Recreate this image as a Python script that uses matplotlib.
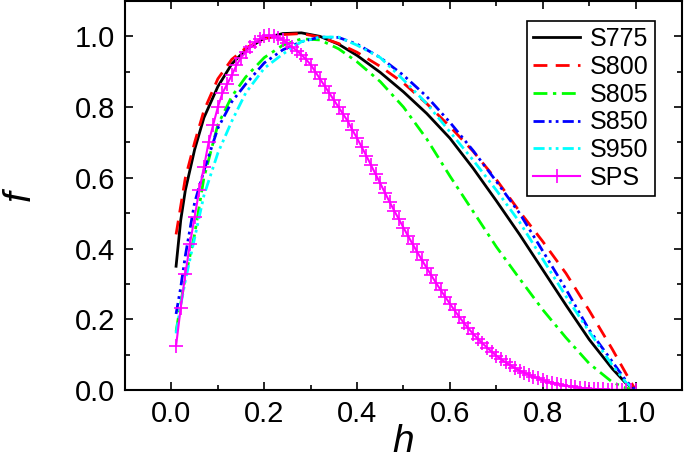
import matplotlib
matplotlib.use("Agg")
import matplotlib.pyplot as plt
from matplotlib.ticker import MultipleLocator

plt.rcParams['font.family'] = ['Liberation Sans', 'DejaVu Sans']

# shared h grid for the smooth curves
h = [0.01, 0.02, 0.03, 0.05, 0.07, 0.10, 0.13, 0.16, 0.20, 0.24, 0.28, 0.32, 0.36,
     0.40, 0.45, 0.50, 0.55, 0.60, 0.65, 0.70, 0.75, 0.80, 0.85, 0.90, 0.95, 0.98, 1.00]

s775 = [0.35, 0.48, 0.565, 0.68, 0.77, 0.858, 0.922, 0.962, 0.995, 1.008, 1.01, 1.0, 0.978,
        0.946, 0.898, 0.843, 0.782, 0.712, 0.627, 0.535, 0.44, 0.34, 0.24, 0.143, 0.06, 0.018, 0.0]
s800 = [0.44, 0.52, 0.60, 0.70, 0.79, 0.88, 0.935, 0.967, 0.993, 1.005, 1.008, 0.998, 0.98,
        0.955, 0.915, 0.868, 0.81, 0.745, 0.675, 0.595, 0.505, 0.42, 0.33, 0.225, 0.115, 0.045, 0.0]
s805 = [0.165, 0.245, 0.32, 0.44, 0.60, 0.75, 0.83, 0.885, 0.94, 0.975, 0.993, 0.99, 0.965,
        0.928, 0.872, 0.80, 0.71, 0.605, 0.505, 0.405, 0.315, 0.227, 0.148, 0.075, 0.022, 0.005, 0.0]
s850 = [0.215, 0.29, 0.38, 0.53, 0.62, 0.74, 0.815, 0.865, 0.925, 0.962, 0.985, 0.998, 0.997,
        0.978, 0.94, 0.89, 0.83, 0.757, 0.677, 0.59, 0.50, 0.393, 0.285, 0.17, 0.08, 0.025, 0.0]
s950 = [0.16, 0.24, 0.31, 0.43, 0.55, 0.67, 0.76, 0.84, 0.91, 0.95, 0.985, 0.998, 0.998,
        0.975, 0.94, 0.877, 0.81, 0.73, 0.65, 0.565, 0.475, 0.37, 0.265, 0.165, 0.07, 0.02, 0.0]

# SPS measured every 0.01
h_sps = [round(0.01 * i, 2) for i in range(1, 101)]
sps = [0.125, 0.232, 0.328, 0.414, 0.49, 0.565, 0.63, 0.70, 0.75, 0.80,
       0.84, 0.865, 0.89, 0.918, 0.94, 0.955, 0.97, 0.983, 0.993, 1.0,
       1.003, 1.0, 0.996, 0.99, 0.98, 0.97, 0.96, 0.948, 0.935, 0.92,
       0.90, 0.88, 0.86, 0.84, 0.82, 0.80, 0.78, 0.76, 0.735, 0.712,
       0.687, 0.662, 0.636, 0.61, 0.584, 0.558, 0.532, 0.507, 0.483, 0.459,
       0.435, 0.412, 0.389, 0.367, 0.345, 0.324, 0.303, 0.283, 0.263, 0.244,
       0.225, 0.207, 0.19, 0.174, 0.159, 0.145, 0.132, 0.12, 0.108, 0.097,
       0.087, 0.078, 0.07, 0.062, 0.055, 0.049, 0.043, 0.038, 0.033, 0.028,
       0.024, 0.021, 0.018, 0.015, 0.012, 0.01, 0.008, 0.006, 0.005, 0.004,
       0.003, 0.002, 0.0015, 0.001, 0.0005, 0.0003, 0.0002, 0.0001, 0.0, 0.0]

fig = plt.figure(figsize=(6.85, 4.65), dpi=100)
ax = fig.add_axes([0.1825, 0.1613, 0.8131, 0.8365])

lw = 2.0
ax.plot(h, s775, color='black', lw=lw, label='S775')
ax.plot(h, s800, color='#ff0000', lw=lw, ls=(0, (5, 3)), label='S800')
ax.plot(h, s805, color='#00ff00', lw=lw, ls=(0, (5, 2, 1.2, 2)), label='S805')
ax.plot(h, s850, color='#0000ff', lw=lw, ls=(0, (4, 1.5, 1, 1.5, 1, 1.5)), label='S850')
ax.plot(h, s950, color='#00ffff', lw=lw, ls=(0, (4, 1.5, 1, 1.5, 1, 1.5)), label='S950')
ax.plot(h_sps, sps, color='#ff00ff', lw=1.5, marker='+', ms=10, mew=1.2, label='SPS')

ax.set_xlim(-0.1, 1.1)
ax.set_ylim(0, 1.1)
ax.xaxis.set_minor_locator(MultipleLocator(0.1))
ax.yaxis.set_minor_locator(MultipleLocator(0.1))
ax.set_xticks([0.0, 0.2, 0.4, 0.6, 0.8, 1.0])
ax.set_yticks([0.0, 0.2, 0.4, 0.6, 0.8, 1.0])

ax.tick_params(which='both', direction='in', top=True, right=True, width=1.2)
ax.tick_params(which='major', length=6, labelsize=21)
ax.tick_params(axis='x', which='major', pad=7)
ax.tick_params(axis='y', which='major', pad=7)
ax.tick_params(which='minor', length=3.5)
for sp in ax.spines.values():
    sp.set_linewidth(1.5)

ax.set_xlabel('h', fontsize=28, style='italic', labelpad=-3)
ax.set_ylabel('f', fontsize=28, style='italic', labelpad=27)

leg = ax.legend(loc='upper right', bbox_to_anchor=(0.952, 0.949), borderaxespad=0,
                fontsize=18, fancybox=False, edgecolor='black', framealpha=1,
                handlelength=1.9, labelspacing=0.15, borderpad=0.25, handletextpad=0.4)
leg.get_frame().set_linewidth(1.2)

fig.savefig('out.png', dpi=100)
